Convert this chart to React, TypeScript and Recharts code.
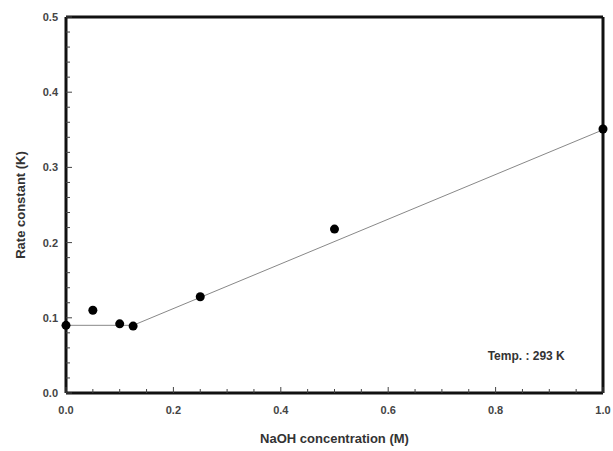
import React from 'react';
import { ScatterChart, Scatter, XAxis, YAxis, ReferenceDot, ReferenceLine } from 'recharts';

const concentrations = [0, 0.05, 0.1, 0.125, 0.25, 0.5, 1.0];
const rateConstants = [0.09, 0.11, 0.092, 0.089, 0.128, 0.218, 0.351];

const fitX = [0, 0.125, 1.0];
const fitY = [0.09, 0.09, 0.35];

const xTicks = [0, 0.05, 0.1, 0.15, 0.2, 0.25, 0.3, 0.35, 0.4, 0.45, 0.5, 0.55, 0.6, 0.65, 0.7, 0.75, 0.8, 0.85, 0.9, 0.95, 1.0];
const yTicks = [0, 0.02, 0.04, 0.06, 0.08, 0.1, 0.12, 0.14, 0.16, 0.18, 0.2, 0.22, 0.24, 0.26, 0.28, 0.3, 0.32, 0.34, 0.36, 0.38, 0.4, 0.42, 0.44, 0.46, 0.48, 0.5];

const points = concentrations.map((x, i) => ({ x, y: rateConstants[i] }));
const fit = fitX.map((x, i) => ({ x, y: fitY[i] }));

const FONT = '"Liberation Sans", Arial, sans-serif';
const MARGIN = 6;
const FC = '#111';
const FW = 3;

const isMajor = (v: number, step: number) => Math.abs(v / step - Math.round(v / step)) < 1e-6;

const XTick = (props: any) => {
  const { x, y, payload } = props;
  const v = payload.value;
  const major = isMajor(v, 0.2);
  const ay = y - MARGIN;
  return (
    <g>
      <line x1={x} y1={ay} x2={x} y2={ay - (major ? 6 : 4)} stroke="#444" strokeWidth={1} />
      {major && (
        <text x={x} y={ay + 21} textAnchor="middle" fontFamily={FONT} fontWeight="bold" fontSize={11} fill="#444" stroke="none">
          {v.toFixed(1)}
        </text>
      )}
    </g>
  );
};

const YTick = (props: any) => {
  const { x, y, payload } = props;
  const v = payload.value;
  const major = isMajor(v, 0.1);
  const ax = x + MARGIN;
  return (
    <g>
      <line x1={ax} y1={y} x2={ax + (major ? 6 : 4)} y2={y} stroke="#444" strokeWidth={1} />
      {major && (
        <text x={ax - 8} y={y + 4} textAnchor="end" fontFamily={FONT} fontWeight="bold" fontSize={11} fill="#444" stroke="none">
          {v.toFixed(1)}
        </text>
      )}
    </g>
  );
};

export default function App() {
  return (
    <div style={{ position: 'absolute', left: 0, top: 0, width: 613, height: 451 }}>
      <ScatterChart width={613} height={451} margin={{ top: 17, right: 10, left: 0, bottom: 0 }}>
        <XAxis
          xAxisId="b"
          type="number"
          dataKey="x"
          domain={[0, 1]}
          ticks={xTicks}
          interval={0}
          tick={<XTick />}
          tickSize={0}
          tickMargin={MARGIN}
          stroke={FC}
          strokeWidth={FW}
          axisLine={{ stroke: FC, strokeWidth: FW }}
          height={58}
          label={{ value: 'NaOH concentration (M)', position: 'insideBottom', offset: 8, style: { fontFamily: FONT, fontWeight: 'bold', fontSize: 13, fill: '#333', stroke: 'none' } }}
        />
        <XAxis xAxisId="t" orientation="top" type="number" dataKey="x" domain={[0, 1]} height={0} tick={false} tickLine={false} stroke={FC} strokeWidth={FW} axisLine={{ stroke: FC, strokeWidth: FW }} />
        <YAxis
          yAxisId="l"
          type="number"
          dataKey="y"
          domain={[0, 0.5]}
          ticks={yTicks}
          interval={0}
          tick={<YTick />}
          tickSize={0}
          tickMargin={MARGIN}
          stroke={FC}
          strokeWidth={FW}
          axisLine={{ stroke: FC, strokeWidth: FW }}
          width={66}
          label={{ value: 'Rate constant (K)', angle: -90, position: 'insideLeft', offset: 20, style: { textAnchor: 'middle', fontFamily: FONT, fontWeight: 'bold', fontSize: 13, fill: '#333', stroke: 'none' } }}
        />
        <YAxis yAxisId="r" orientation="right" type="number" dataKey="y" domain={[0, 0.5]} width={0} tick={false} tickLine={false} stroke={FC} strokeWidth={FW} axisLine={{ stroke: FC, strokeWidth: FW }} />
        <ReferenceLine xAxisId="b" yAxisId="l" x={1} stroke={FC} strokeWidth={FW} />
        <ReferenceLine xAxisId="b" yAxisId="l" y={0.5} stroke={FC} strokeWidth={FW} />
        <Scatter xAxisId="b" yAxisId="l" data={fit} line={{ stroke: '#888', strokeWidth: 1 }} shape={() => null} isAnimationActive={false} />
        <Scatter xAxisId="b" yAxisId="l" data={points} fill="#000" shape={(p: any) => <circle cx={p.cx} cy={p.cy} r={4.5} fill="#000" />} isAnimationActive={false} />
        <ReferenceDot xAxisId="b" yAxisId="l" x={0.857} y={0.049} r={0} fill="none" stroke="none" ifOverflow="visible"
          label={{ value: 'Temp. : 293 K', position: 'center', style: { fontFamily: FONT, fontWeight: 'bold', fontSize: 12, fill: '#333' } }} />
      </ScatterChart>
    </div>
  );
}
